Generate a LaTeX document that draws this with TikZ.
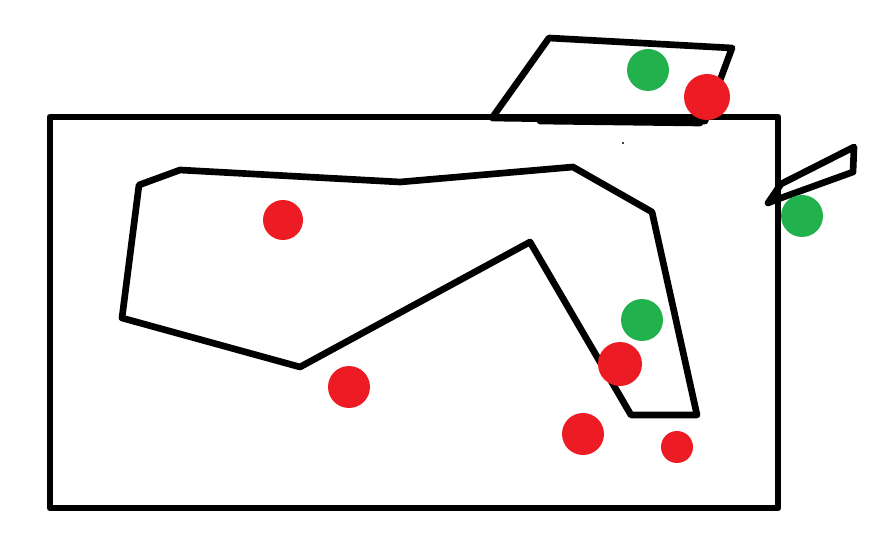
\documentclass[tikz,border=0pt]{standalone}
\definecolor{paintred}{RGB}{237,28,36}
\definecolor{paintgreen}{RGB}{34,177,76}
\tikzset{
  outline/.style={draw=black, line width=0.2cm, line join=round, line cap=round},
  reddot/.style={fill=paintred},
  greendot/.style={fill=paintgreen}
}
\begin{document}
\begin{tikzpicture}[x=0.03cm, y=-0.03cm]
    \useasboundingbox (0,0) rectangle (888,539);
    % outer frame
    \draw[outline] (50,117) rectangle (778,508);
    % shape on top
    \draw[outline] (492,118) -- (549,38) -- (732,48) -- (705,121) -- cycle;
    \draw[outline] (540,121) -- (700,123);
    % small shape on the right
    \draw[outline] (768,203) -- (781,184) -- (854,147) -- (853,172)
        -- (781,198) -- cycle;
    % big shape inside
    \draw[outline] (122,318) -- (139,185) -- (180,170) -- (400,182)
        -- (573,167) -- (652,212) -- (697,415) -- (631,415) -- (530,242)
        -- (300,367) -- cycle;
    % points
    \fill[reddot] (283,220) circle (20);
    \fill[reddot] (349,387) circle (21);
    \fill[greendot] (642,320) circle (21);
    \fill[reddot] (620,364) circle (22);
    \fill[reddot] (583,434) circle (21);
    \fill[reddot] (677,447) circle (16);
    \fill[greendot] (648,70) circle (21);
    \fill[reddot] (707,97) circle (23);
    \fill[greendot] (802,216) circle (21);
    \fill (623,143) circle (1.2);
\end{tikzpicture}
\end{document}
